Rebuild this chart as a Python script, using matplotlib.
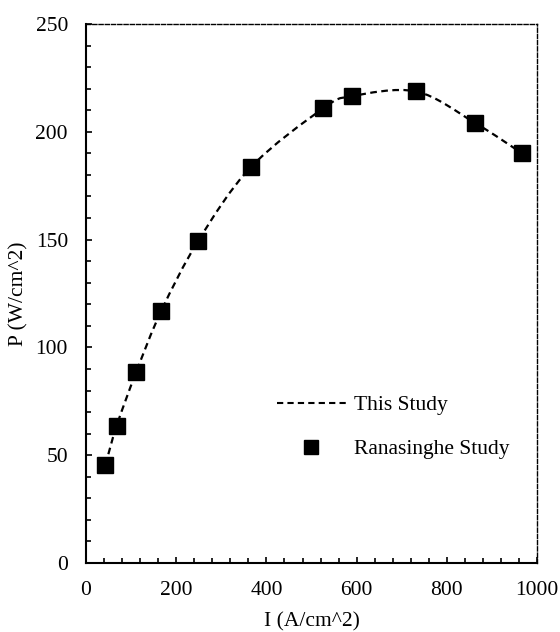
import numpy as np
import matplotlib.pyplot as plt
from matplotlib.path import Path
from matplotlib.patches import PathPatch
from matplotlib.lines import Line2D
from matplotlib.ticker import MultipleLocator

plt.rcParams['font.family'] = ['Liberation Serif', 'DejaVu Serif']
plt.rcParams['font.size'] = 15.5

# Ranasinghe study data
current = [43, 68, 111, 167, 249, 365, 526, 589, 732, 862, 967]
power = [45.5, 63.7, 88.4, 117, 149.5, 183.5, 210.9, 216.5, 218.7, 204.2, 190]


def smooth_path(xs, ys):
    # Excel-like smoothed line: cubic Bezier segments through the points
    p = np.column_stack([xs, ys]).astype(float)
    n = len(p)
    verts = [p[0]]
    codes = [Path.MOVETO]
    for i in range(n - 1):
        p0 = p[max(i - 1, 0)]
        p1 = p[i]
        p2 = p[i + 1]
        p3 = p[min(i + 2, n - 1)]
        c1 = p1 + (p2 - p0) / 6.0
        c2 = p2 - (p3 - p1) / 6.0
        verts += [c1, c2, p2]
        codes += [Path.CURVE4] * 3
    return Path(verts, codes)


fig = plt.figure(figsize=(5.6, 6.32), dpi=100)
ax = fig.add_axes([0.1536, 0.1092, 0.8054, 0.8528])

ax.add_patch(PathPatch(smooth_path(current, power), fill=False, ec='black',
                       lw=1.6, ls=(0, (3, 2)), zorder=2))
ax.plot(current, power, ls='none', marker='s', ms=11, color='black', zorder=3)

ax.set_xlim(0, 1000)
ax.set_ylim(0, 250)
ax.xaxis.set_major_locator(MultipleLocator(200))
ax.xaxis.set_minor_locator(MultipleLocator(40))
ax.yaxis.set_major_locator(MultipleLocator(50))
ax.yaxis.set_minor_locator(MultipleLocator(10))
ax.tick_params(which='both', direction='in', top=False, right=False, width=1.2)
ax.tick_params(which='major', length=4.5, pad=13)
ax.tick_params(which='minor', length=3.5)

for s in ['left', 'bottom']:
    ax.spines[s].set_linewidth(1.5)
for s in ['top', 'right']:
    ax.spines[s].set_linewidth(1.0)
    ax.spines[s].set_linestyle((0, (3, 1.5)))

ax.set_xlabel('I (A/cm^2)', labelpad=9)
ax.set_ylabel('P (W/cm^2)', labelpad=5)

handles = [Line2D([], [], color='black', lw=1.5, ls=(0, (3, 2))),
           Line2D([], [], color='black', ls='none', marker='s', ms=10)]
ax.legend(handles, ['This Study', 'Ranasinghe Study'], frameon=False,
          loc='center left', bbox_to_anchor=(0.4235, 0.252), borderpad=0,
          borderaxespad=0, handlelength=3.2, labelspacing=1.1,
          handletextpad=0.37)

fig.savefig('out.png', dpi=100)
